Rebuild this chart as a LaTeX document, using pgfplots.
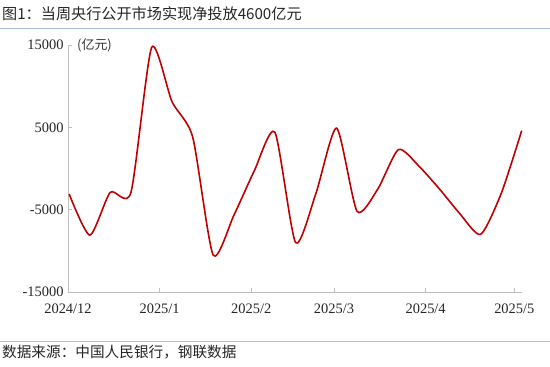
\documentclass[border=0pt]{standalone}
\usepackage{fontspec}
\setmainfont{Liberation Serif}
\newfontfamily\cjk{Noto Sans CJK SC}
\usepackage{pgfplots}
\pgfplotsset{compat=1.18}
\definecolor{linered}{HTML}{C00000}
\definecolor{axgray}{HTML}{BFBFBF}
\definecolor{rulecol}{HTML}{A9BEE0}
\begin{document}
\begin{tikzpicture}
\useasboundingbox (0bp,0bp) rectangle (550bp,367bp);
\draw[rulecol, line width=0.8bp] (0bp,339bp) -- (550bp,339bp);
\draw[rulecol, line width=0.8bp] (0bp,26bp) -- (550bp,26bp);
\node[anchor=west, inner sep=0pt, font=\cjk\fontsize{15.2}{18}\selectfont, text=black!85] at (2bp,353bp) {图1：当周央行公开市场实现净投放4600亿元};
\node[anchor=west, inner sep=0pt, font=\cjk\fontsize{14.7}{17}\selectfont, text=black!85] at (2bp,15bp) {数据来源：中国人民银行，钢联数据};
\node[anchor=west, inner sep=0pt, font=\cjk\fontsize{13}{15}\selectfont, text=black!80] at (77bp,322bp) {(亿元)};
\begin{axis}[
  at={(68bp,75bp)}, anchor=south west,
  scale only axis, width=454bp, height=247bp,
  xmin=0, xmax=153.6, ymin=-15000, ymax=15000,
  axis x line*=bottom, axis y line*=left,
  axis line style={axgray, line width=1bp},
  tick style={axgray, line width=0.8bp},
  tick align=inside, major tick length=4bp,
  xtick={0,31,62,90,121,151},
  xticklabels={2024/12,2025/1,2025/2,2025/3,2025/4,2025/5},
  ytick={-15000,-5000,5000,15000},
  yticklabels={-15000,-5000,5000,15000},
  scaled y ticks=false,
  ticklabel style={font=\fontsize{14.5}{16}\selectfont, text=black!85},
  xticklabel style={yshift=-8bp},
  yticklabel style={xshift=-1bp},
  clip=false,
]
\addplot[linered, line width=1.6bp, smooth, tension=0.4] table {
x y
0.4 -3100
7.4 -8100
14.3 -2900
21.3 -2900
28.3 14700
35.2 8100
42.2 3800
49.1 -10500
56.1 -5700
63.0 -300
70.0 4400
77.0 -9000
83.9 -3000
90.9 4900
97.8 -5200
104.8 -2500
111.8 2300
118.7 300
125.7 -2500
132.6 -5500
139.6 -8000
146.6 -3000
153.5 4600
};
\end{axis}
\end{tikzpicture}
\end{document}
